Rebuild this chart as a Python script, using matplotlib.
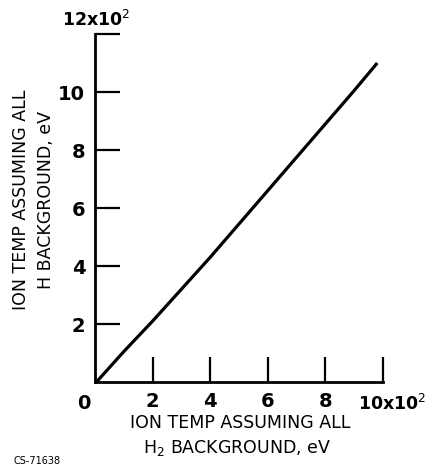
import matplotlib
matplotlib.use("Agg")
import matplotlib.pyplot as plt

plt.rcParams['font.family'] = ['DejaVu Sans']

# data (x10^2 eV)
h2_temp = [0.05, 1, 2, 3, 4, 5, 6, 7, 8, 9, 9.8]
h_temp = [0.0, 1.05, 2.1, 3.2, 4.3, 5.45, 6.6, 7.75, 8.9, 10.05, 11.0]
xticks = [2, 4, 6, 8, 10]
xticklabels = ['2', '4', '6', '8', '']
yticks = [2, 4, 6, 8, 10, 12]
yticklabels = ['2', '4', '6', '8', '10', '']

W, H = 437, 467
fig = plt.figure(figsize=(W / 100, H / 100), dpi=100)
ax = fig.add_axes([95 / W, (H - 382) / H, 288 / W, 348 / H])
ax.set_xlim(0, 10)
ax.set_ylim(0, 12)

ax.plot(h2_temp, h_temp, color='black', lw=2.3, solid_capstyle='butt')

for s in ['top', 'right']:
    ax.spines[s].set_visible(False)
for s in ['left', 'bottom']:
    ax.spines[s].set_linewidth(2.0)

ax.set_xticks(xticks)
ax.set_xticklabels(xticklabels)
ax.set_yticks(yticks)
ax.set_yticklabels(yticklabels)
ax.tick_params(direction='in', length=18, width=1.6, labelsize=14)
ax.tick_params(axis='x', pad=7)
ax.tick_params(axis='y', pad=7)
for lab in ax.get_xticklabels() + ax.get_yticklabels():
    lab.set_fontweight('bold')

ax.text(-0.38, -0.42, '0', fontsize=14, fontweight='bold', ha='center', va='top')
ax.text(0.05, 12.15, r'12x10$^2$', fontsize=12.5, fontweight='bold', ha='center', va='bottom')
ax.text(10.3, -0.42, r'10x10$^2$', fontsize=12.5, fontweight='bold', ha='center', va='top')

fig.text(240 / W, 1 - 428 / H, 'ION TEMP ASSUMING ALL', fontsize=12.5, ha='center', va='baseline')
fig.text(237 / W, 1 - 453 / H, r'H$_2$ BACKGROUND, eV', fontsize=12.5, ha='center', va='baseline')
fig.text(21 / W, 1 - 200 / H, 'ION TEMP ASSUMING ALL', fontsize=12.5, ha='center', va='center', rotation=90)
fig.text(46 / W, 1 - 200 / H, 'H BACKGROUND, eV', fontsize=12.5, ha='center', va='center', rotation=90)
fig.text(14 / W, 1 - 466 / H, 'CS-71638', fontsize=7, ha='left', va='bottom')

fig.savefig('out.png', dpi=100)
